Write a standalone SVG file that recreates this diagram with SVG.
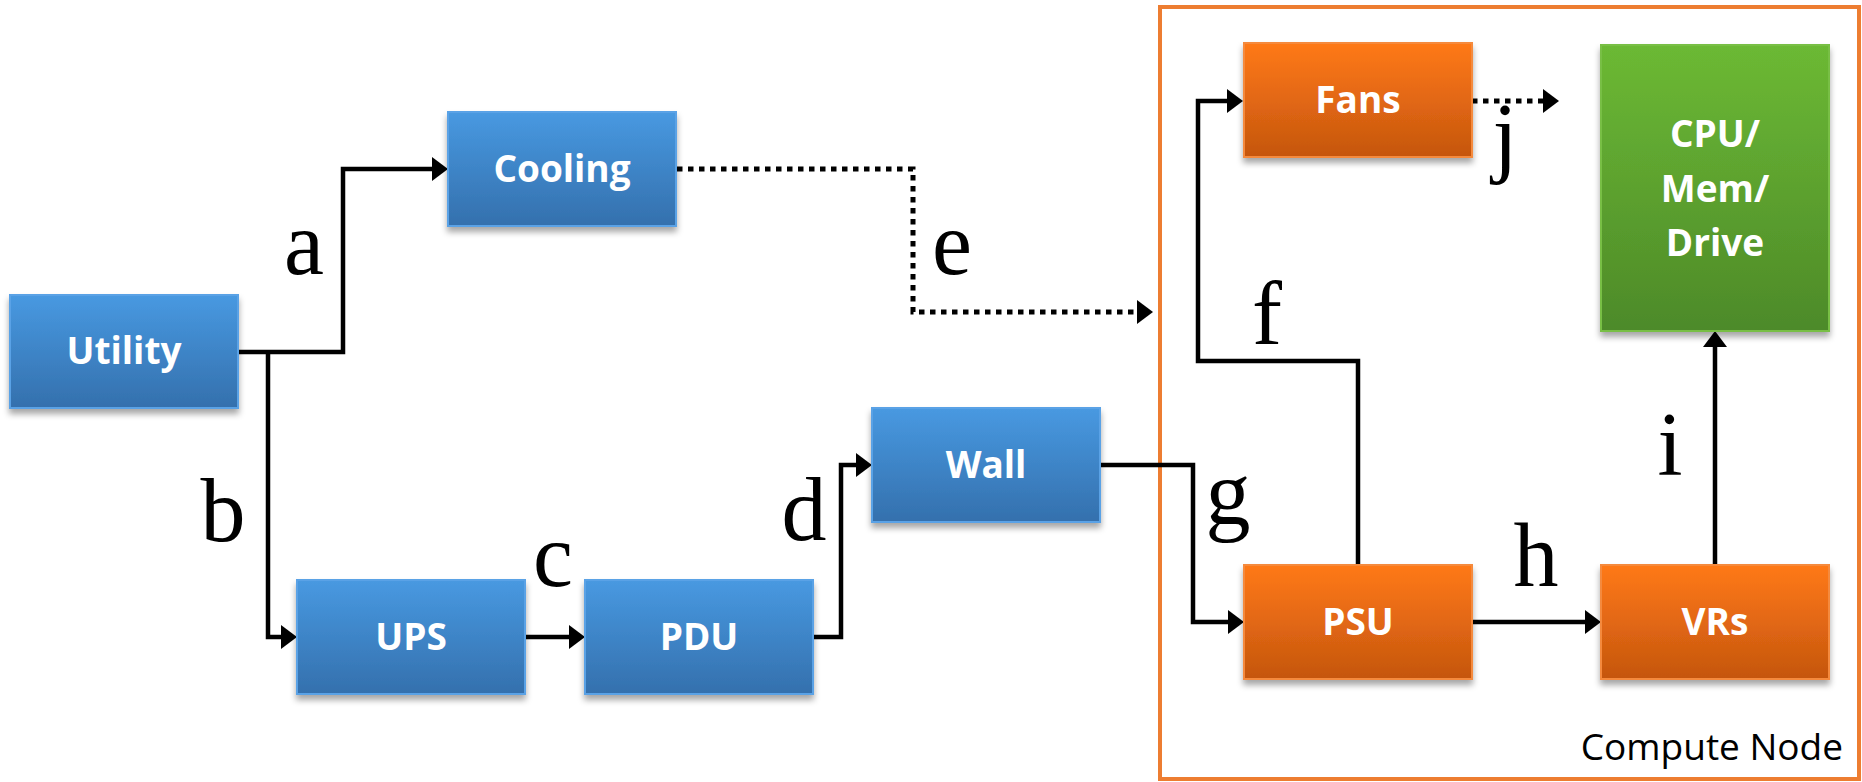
<svg xmlns="http://www.w3.org/2000/svg" width="1862" height="782" viewBox="0 0 1862 782">
  <defs>
    <linearGradient id="gBlue" x1="0" y1="0" x2="0" y2="1">
      <stop offset="0" stop-color="#4899E1"/>
      <stop offset="1" stop-color="#3470AD"/>
    </linearGradient>
    <linearGradient id="gOrange" x1="0" y1="0" x2="0" y2="1">
      <stop offset="0" stop-color="#FF7918"/>
      <stop offset="1" stop-color="#C5560E"/>
    </linearGradient>
    <linearGradient id="gGreen" x1="0" y1="0" x2="0" y2="1">
      <stop offset="0" stop-color="#6CB934"/>
      <stop offset="1" stop-color="#4D8A29"/>
    </linearGradient>
    <filter id="shadow" x="-10%" y="-10%" width="120%" height="130%">
      <feDropShadow dx="0" dy="5" stdDeviation="3" flood-color="#000" flood-opacity="0.35"/>
    </filter>
    <marker id="arrow" markerUnits="userSpaceOnUse" markerWidth="16" markerHeight="26" refX="0" refY="13" orient="auto">
      <path d="M0,1 L16,13 L0,25 Z" fill="#000"/>
    </marker>
  </defs>
  <style>
    .box { stroke-width: 2; filter: url(#shadow); }
    .blue { fill: url(#gBlue); stroke: #5AA2E6; }
    .orange { fill: url(#gOrange); stroke: #F58A3C; }
    .green { fill: url(#gGreen); stroke: #78BF45; }
    .name { font-family: "Open Sans", "Liberation Sans", sans-serif; font-weight: bold; font-size: 37px; fill: #fff; text-anchor: middle; }
    .wire { fill: none; stroke: #000; stroke-width: 4.5; stroke-linejoin: miter; }
    .solid { marker-end: url(#arrow); }
    .dotted { stroke-width: 5; stroke-dasharray: 5.5 5.5; marker-end: url(#arrow); }
    .tag { font-family: "Liberation Serif", "Times New Roman", serif; font-size: 90px; fill: #000; text-anchor: middle; }
  </style>

  <rect fill="#fff" x="0" y="0" width="1862" height="782"/>

  <!-- compute node boundary -->
  <g id="compute-node">
    <rect x="1160" y="7" width="699" height="772" fill="none" stroke="#ED7D31" stroke-width="4"/>
    <text x="1843" y="760" text-anchor="end" font-family="'Open Sans', 'Liberation Sans', sans-serif" font-size="37" fill="#000">Compute Node</text>
  </g>

  <!-- connectors -->
  <g id="connectors">
    <path class="wire solid" d="M238,352 H343 V169 H432"/>
    <path class="wire solid" d="M268,352 V637 H281"/>
    <path class="wire solid" d="M525,637 H569"/>
    <path class="wire solid" d="M813,637 H841 V465 H856"/>
    <path class="wire solid" d="M1100,465 H1193 V622 H1228"/>
    <path class="wire solid" d="M1358,565 V361 H1198 V101 H1227"/>
    <path class="wire solid" d="M1471,622 H1585"/>
    <path class="wire solid" d="M1715,565 V347"/>
    <path class="wire dotted" d="M677,169 H913 V312 H1137"/>
    <path class="wire dotted" d="M1472,101 H1543"/>
  </g>

  <!-- edge labels -->
  <g id="edge-labels">
    <text class="tag" x="304" y="274">a</text>
    <text class="tag" x="223" y="541">b</text>
    <text class="tag" x="553" y="586">c</text>
    <text class="tag" x="804" y="540">d</text>
    <text class="tag" x="952" y="274">e</text>
    <text class="tag" x="1267" y="344">f</text>
    <text class="tag" x="1228" y="524">g</text>
    <text class="tag" x="1536" y="586">h</text>
    <text class="tag" x="1670" y="475">i</text>
    <text class="tag" x="1505" y="166">j</text>
  </g>

  <!-- nodes -->
  <g id="utility">
    <rect class="box blue" x="10" y="295" width="228" height="113"/>
    <text class="name" x="124" y="364">Utility</text>
  </g>
  <g id="cooling">
    <rect class="box blue" x="448" y="112" width="228" height="114"/>
    <text class="name" x="562" y="182">Cooling</text>
  </g>
  <g id="ups">
    <rect class="box blue" x="297" y="580" width="228" height="114"/>
    <text class="name" x="411" y="650">UPS</text>
  </g>
  <g id="pdu">
    <rect class="box blue" x="585" y="580" width="228" height="114"/>
    <text class="name" x="699" y="650">PDU</text>
  </g>
  <g id="wall">
    <rect class="box blue" x="872" y="408" width="228" height="114"/>
    <text class="name" x="986" y="478">Wall</text>
  </g>
  <g id="fans">
    <rect class="box orange" x="1244" y="43" width="228" height="114"/>
    <text class="name" x="1358" y="113">Fans</text>
  </g>
  <g id="psu">
    <rect class="box orange" x="1244" y="565" width="228" height="114"/>
    <text class="name" x="1358" y="635">PSU</text>
  </g>
  <g id="vrs">
    <rect class="box orange" x="1601" y="565" width="228" height="114"/>
    <text class="name" x="1715" y="635">VRs</text>
  </g>
  <g id="cpu-mem-drive">
    <rect class="box green" x="1601" y="45" width="228" height="286"/>
    <text class="name" x="1715" y="147">CPU/</text>
    <text class="name" x="1715" y="202">Mem/</text>
    <text class="name" x="1715" y="256">Drive</text>
  </g>
</svg>
